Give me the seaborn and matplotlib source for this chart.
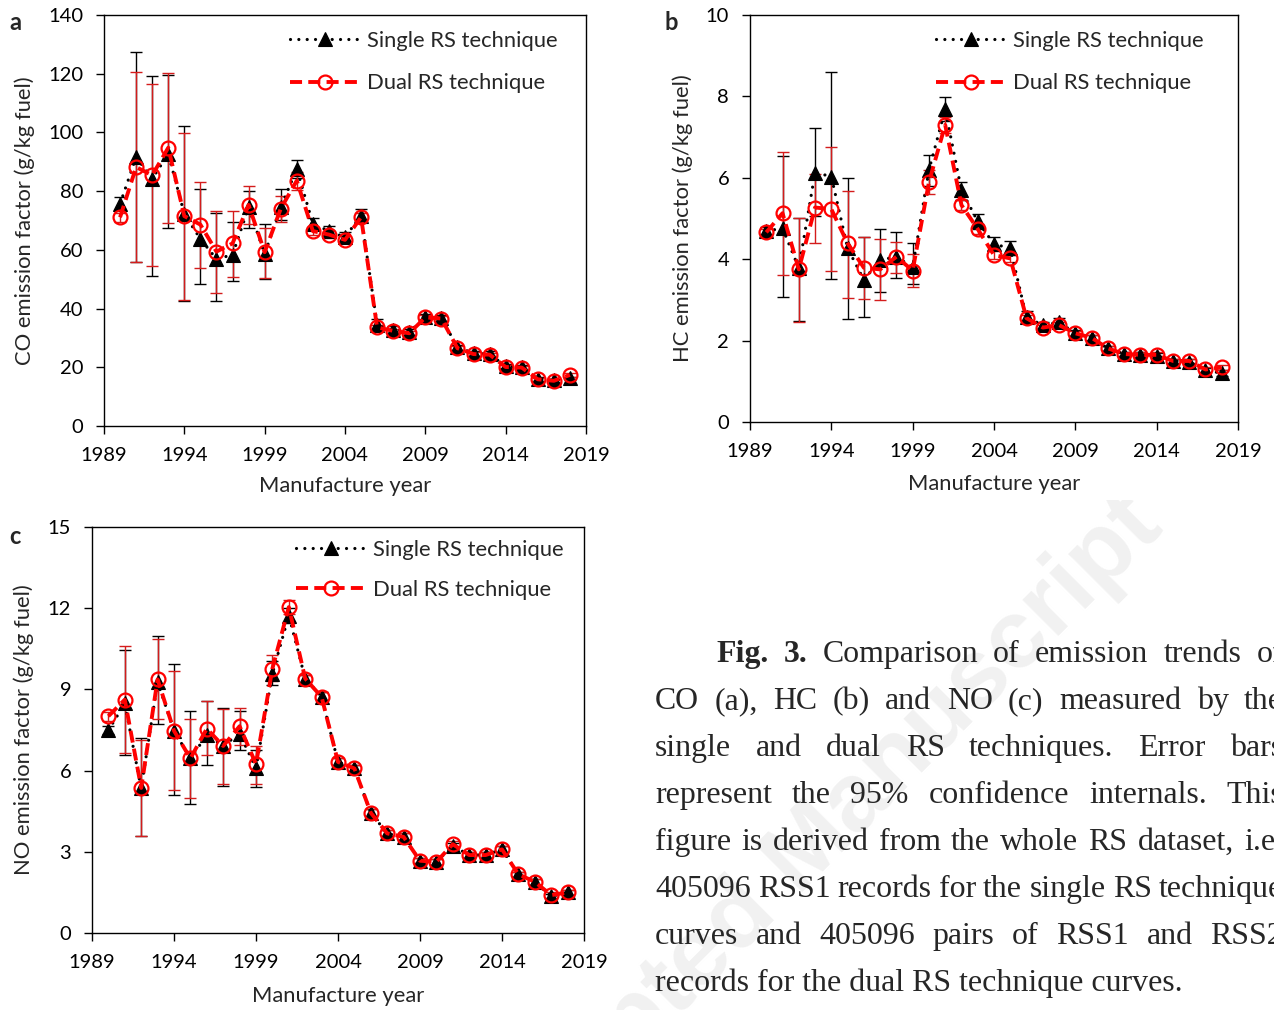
import numpy as np
import pandas as pd
import matplotlib
matplotlib.use("Agg")
import matplotlib.pyplot as plt
import matplotlib.patches as mpatches
import seaborn as sns

# ---------------- data ----------------
years = list(range(1990, 2019))

co_single = [75.7, 91.6, 84.2, 92.7, 72.2, 63.7, 56.9, 58.3, 74.5, 58.6, 74.5, 87.6, 68.9, 66.4, 64.3, 71.7,
             34.5, 32.8, 32.0, 37.2, 36.8, 26.8, 24.8, 24.6, 20.3, 20.0, 16.0, 15.5, 16.2]
co_single_lo = [73.5, 55.8, 51.0, 67.4, 42.5, 48.4, 42.7, 49.3, 67.4, 50.0, 70.0, 84.5, 67.0, 65.0, 63.0, 69.5,
                33.0, 31.8, 31.0, 36.2, 35.8, 26.0, 24.0, 23.8, 19.6, 19.3, 15.4, 14.9, 15.6]
co_single_hi = [78.0, 127.5, 119.3, 119.7, 102.2, 80.8, 72.6, 69.4, 80.2, 68.8, 80.6, 90.7, 71.0, 68.0, 66.0, 74.0,
                36.5, 34.0, 33.0, 38.2, 37.8, 27.6, 25.6, 25.4, 21.0, 20.7, 16.6, 16.1, 16.8]
co_dual = [71.1, 88.2, 85.4, 94.8, 71.5, 68.6, 59.4, 62.2, 75.3, 59.2, 74.0, 83.6, 66.4, 65.2, 63.4, 71.1,
           33.6, 32.4, 31.6, 37.0, 36.6, 26.5, 24.5, 24.3, 20.1, 19.9, 15.9, 15.4, 17.4]
co_dual_lo = [69.5, 56.0, 54.6, 69.2, 42.9, 53.9, 45.3, 50.6, 68.8, 50.3, 69.6, 80.5, 65.0, 64.0, 62.2, 69.8,
              32.8, 31.6, 30.8, 36.2, 35.8, 25.9, 23.9, 23.7, 19.5, 19.3, 15.3, 14.8, 16.7]
co_dual_hi = [72.7, 120.6, 116.4, 120.4, 99.9, 83.1, 73.4, 73.2, 81.6, 67.5, 78.5, 86.5, 67.8, 66.4, 64.6, 72.4,
              34.4, 33.2, 32.4, 37.8, 37.4, 27.1, 25.1, 24.9, 20.7, 20.5, 16.5, 16.0, 18.1]

hc_single = [4.69, 4.76, 3.78, 6.13, 6.03, 4.27, 3.49, 3.98, 4.06, 3.80, 6.19, 7.68, 5.69, 4.93, 4.37, 4.27,
             2.57, 2.38, 2.45, 2.18, 2.07, 1.81, 1.67, 1.65, 1.63, 1.50, 1.48, 1.27, 1.20]
hc_single_lo = [4.60, 3.08, 2.47, 5.07, 3.51, 2.53, 2.57, 3.19, 3.55, 3.38, 5.80, 7.40, 5.45, 4.75, 4.22, 4.10,
                2.45, 2.30, 2.37, 2.11, 2.00, 1.75, 1.61, 1.59, 1.57, 1.44, 1.42, 1.21, 1.13]
hc_single_hi = [4.80, 6.54, 5.02, 7.23, 8.61, 6.00, 4.55, 4.73, 4.68, 4.39, 6.56, 7.98, 5.89, 5.12, 4.55, 4.45,
                2.72, 2.46, 2.55, 2.25, 2.14, 1.87, 1.73, 1.71, 1.69, 1.56, 1.54, 1.33, 1.27]
hc_dual = [4.66, 5.13, 3.75, 5.27, 5.23, 4.39, 3.79, 3.75, 4.06, 3.72, 5.89, 7.30, 5.33, 4.74, 4.10, 4.02,
           2.55, 2.32, 2.38, 2.18, 2.07, 1.81, 1.67, 1.65, 1.65, 1.50, 1.50, 1.29, 1.34]
hc_dual_lo = [4.60, 3.61, 2.45, 4.41, 3.72, 3.05, 3.02, 3.00, 3.65, 3.32, 5.60, 7.10, 5.20, 4.62, 4.00, 3.92,
              2.47, 2.25, 2.31, 2.12, 2.01, 1.75, 1.61, 1.59, 1.59, 1.44, 1.44, 1.23, 1.27]
hc_dual_hi = [4.75, 6.64, 5.02, 6.10, 6.75, 5.68, 4.54, 4.50, 4.43, 4.12, 6.18, 7.50, 5.45, 4.86, 4.20, 4.12,
              2.63, 2.39, 2.45, 2.24, 2.13, 1.87, 1.73, 1.71, 1.71, 1.56, 1.56, 1.35, 1.41]

no_single = [7.49, 8.48, 5.34, 9.27, 7.47, 6.45, 7.31, 6.91, 7.37, 6.08, 9.58, 11.73, 9.40, 8.72, 6.32, 6.08,
             4.44, 3.68, 3.55, 2.67, 2.63, 3.22, 2.88, 2.88, 3.09, 2.17, 1.89, 1.35, 1.50]
no_single_lo = [7.35, 6.59, 3.60, 7.74, 5.10, 4.75, 6.22, 5.44, 6.75, 5.38, 9.15, 11.45, 9.25, 8.55, 6.15, 5.95,
                4.30, 3.55, 3.42, 2.57, 2.53, 3.10, 2.78, 2.78, 2.97, 2.07, 1.79, 1.25, 1.40]
no_single_hi = [7.65, 10.44, 7.22, 10.97, 9.92, 8.20, 8.57, 8.31, 8.19, 6.75, 10.05, 12.00, 9.55, 8.90, 6.45, 6.20,
                4.58, 3.81, 3.68, 2.77, 2.73, 3.34, 2.98, 2.98, 3.21, 2.27, 1.99, 1.45, 1.60]
no_dual = [8.01, 8.62, 5.36, 9.37, 7.47, 6.45, 7.55, 6.91, 7.64, 6.24, 9.77, 12.04, 9.40, 8.72, 6.32, 6.08,
           4.44, 3.68, 3.55, 2.67, 2.63, 3.28, 2.88, 2.88, 3.09, 2.17, 1.89, 1.40, 1.50]
no_dual_lo = [7.85, 6.65, 3.59, 7.89, 5.28, 4.97, 6.57, 5.49, 6.94, 5.52, 9.30, 11.80, 9.25, 8.55, 6.17, 5.95,
              4.30, 3.55, 3.42, 2.57, 2.53, 3.16, 2.78, 2.78, 2.97, 2.07, 1.79, 1.30, 1.40]
no_dual_hi = [8.15, 10.59, 7.12, 10.85, 9.68, 7.90, 8.57, 8.28, 8.31, 6.90, 10.26, 12.32, 9.55, 8.90, 6.47, 6.21,
              4.58, 3.81, 3.68, 2.77, 2.73, 3.40, 2.98, 2.98, 3.21, 2.27, 1.99, 1.50, 1.60]

xticks = [1989, 1994, 1999, 2004, 2009, 2014, 2019]
legend_labels = ["Single RS technique", "Dual RS technique"]
panel_letters = ["a", "b", "c"]
ylabels = ["CO emission factor (g/kg fuel)", "HC emission factor (g/kg fuel)", "NO emission factor (g/kg fuel)"]
xlabel = "Manufacture year"
caption_lines = [
    "Fig. 3. Comparison of emission trends of",
    "CO (a), HC (b) and NO (c) measured by the",
    "single and dual RS techniques. Error bars",
    "represent the 95% confidence internals. This",
    "figure is derived from the whole RS dataset, i.e.",
    "405096 RSS1 records for the single RS technique",
    "curves and 405096 pairs of RSS1 and RSS2",
    "records for the dual RS technique curves.",
]
watermark = "Accepted Manuscript"

# ---------------- style ----------------
sns.set_style("ticks")
plt.rcParams["font.family"] = ["Lato", "DejaVu Sans"]
plt.rcParams["axes.linewidth"] = 1.0
plt.rcParams["axes.edgecolor"] = "black"

W, H = 1274, 1010
fig = plt.figure(figsize=(W / 100, H / 100), dpi=100)
fig.patch.set_facecolor("white")

FS_TICK = 14.5
FS_LAB = 15.8
RED = "#ff0000"
ERR_RED = "#d41c1c"


def px_axes(l, r, t, b):
    ax = fig.add_axes([l / W, 1 - b / H, (r - l) / W, (b - t) / H])
    ax.set_zorder(1)
    return ax


def panel(ax, s, s_lo, s_hi, d, d_lo, d_hi, ylim, ystep, ylabel, ylab_x, xlab_y, leg_x, leg_y, leg_sp):
    ys = np.array(s); yd = np.array(d)
    ax.errorbar(years, ys, yerr=[ys - np.array(s_lo), np.array(s_hi) - ys], fmt="none",
                ecolor="black", elinewidth=1.0, capsize=4, capthick=1.0, zorder=2)
    ax.errorbar(years, yd, yerr=[yd - np.array(d_lo), np.array(d_hi) - yd], fmt="none",
                ecolor=ERR_RED, elinewidth=1.0, capsize=4, capthick=1.0, zorder=2.1)
    df_s = pd.DataFrame({"year": years, "value": s})
    df_d = pd.DataFrame({"year": years, "value": d})
    sns.lineplot(data=df_s, x="year", y="value", ax=ax, color="black", marker="^", markersize=9.5,
                 mfc="black", mec="black", mew=0.8, linestyle=(0, (0.01, 2.6)), linewidth=2.3,
                 dash_capstyle="round", errorbar=None, zorder=3)
    l1 = ax.lines[-1]
    sns.lineplot(data=df_d, x="year", y="value", ax=ax, color=RED, marker="o", markersize=10,
                 mfc="none", mec=RED, mew=1.6, linestyle=(0, (3.1, 1.6)), linewidth=2.8,
                 errorbar=None, zorder=4)
    l2 = ax.lines[-1]
    ax.set_xlim(1989, 2019)
    ax.set_xticks(xticks)
    ax.set_ylim(*ylim)
    ax.set_yticks(np.arange(ylim[0], ylim[1] + 0.001, ystep))
    ax.tick_params(axis="both", direction="out", length=5.5, width=1.0, pad=9.5,
                   labelsize=FS_TICK, colors="black")
    for sp in ax.spines.values():
        sp.set_visible(True)
        sp.set_color("black")
        sp.set_linewidth(1.0)
    ax.set_facecolor("none")
    ax.set_xlabel(xlabel, fontsize=FS_LAB)
    ax.set_ylabel(ylabel, fontsize=FS_LAB)
    ax.yaxis.set_label_coords(ylab_x, 0.5)
    ax.xaxis.set_label_coords(0.5, xlab_y)
    ax.legend([l1, l2], legend_labels, loc="upper left", bbox_to_anchor=(leg_x, leg_y),
              frameon=False, fontsize=FS_LAB, handlelength=3.2, handletextpad=0.3,
              labelspacing=leg_sp, borderpad=0, borderaxespad=0, numpoints=1)


# faint watermark behind everything, partly hidden by the chart area as in the reference
fig.text(800 / W, 1 - 860 / H, watermark, rotation=45, fontsize=70, fontweight="bold",
         family=["Liberation Sans", "DejaVu Sans"], color="#f1f1f1", ha="center", va="center",
         rotation_mode="anchor", zorder=-2)
fig.patches.append(mpatches.Rectangle((600 / W, 1 - 500 / H), 674 / W, 500 / H,
                                      transform=fig.transFigure, facecolor="white",
                                      edgecolor="none", zorder=-1))

ax_a = px_axes(104, 586, 15, 426)
panel(ax_a, co_single, co_single_lo, co_single_hi, co_dual, co_dual_lo, co_dual_hi,
      (0, 140), 20, ylabels[0], -0.143, -0.121, 0.386, 0.962, 1.03)
ax_b = px_axes(750, 1238, 15, 422)
panel(ax_b, hc_single, hc_single_lo, hc_single_hi, hc_dual, hc_dual_lo, hc_dual_hi,
      (0, 10), 2, ylabels[1], -0.117, -0.127, 0.381, 0.961, 1.03)
ax_c = px_axes(92, 584, 527, 933)
panel(ax_c, no_single, no_single_lo, no_single_hi, no_dual, no_dual_lo, no_dual_hi,
      (0, 15), 3, ylabels[2], -0.118, -0.130, 0.415, 0.968, 0.9)

for letter, (x, y) in zip(panel_letters, [(15, 22), (671, 22), (15, 537)]):
    fig.text(x / W, 1 - y / H, letter, fontsize=17, fontweight="bold", ha="center", va="center",
             family=["Lato", "DejaVu Sans"])

# caption, justified
renderer = fig.canvas.get_renderer()
SERIF = ["Liberation Serif", "DejaVu Serif"]
probe = fig.text(0, 0, caption_lines[-1], fontsize=24, family=SERIF)
w24 = probe.get_window_extent(renderer).width
probe.remove()
cap_fs = 24 * 527.0 / w24

L, R = 655, 1283
baselines = [662, 709, 756, 803, 850, 897, 944, 991]
for i, (line, yb) in enumerate(zip(caption_lines, baselines)):
    words = line.split(" ")
    left = 716 if i == 0 else L
    if i == len(caption_lines) - 1:
        fig.text(left / W, 1 - yb / H, line, fontsize=cap_fs, family=SERIF, va="baseline", ha="left")
        continue
    texts = []
    widths = []
    for j, wd in enumerate(words):
        bold = (i == 0 and j < 2)
        t = fig.text(0, 0, wd, fontsize=cap_fs, family=SERIF, va="baseline", ha="left",
                     fontweight="bold" if bold else "normal")
        texts.append(t)
        widths.append(t.get_window_extent(renderer).width)
    gap = (R - left - sum(widths)) / (len(words) - 1)
    x = left
    for t, wdt in zip(texts, widths):
        t.set_position((x / W, 1 - yb / H))
        x += wdt + gap

fig.savefig("out.png", dpi=100, facecolor="white")
